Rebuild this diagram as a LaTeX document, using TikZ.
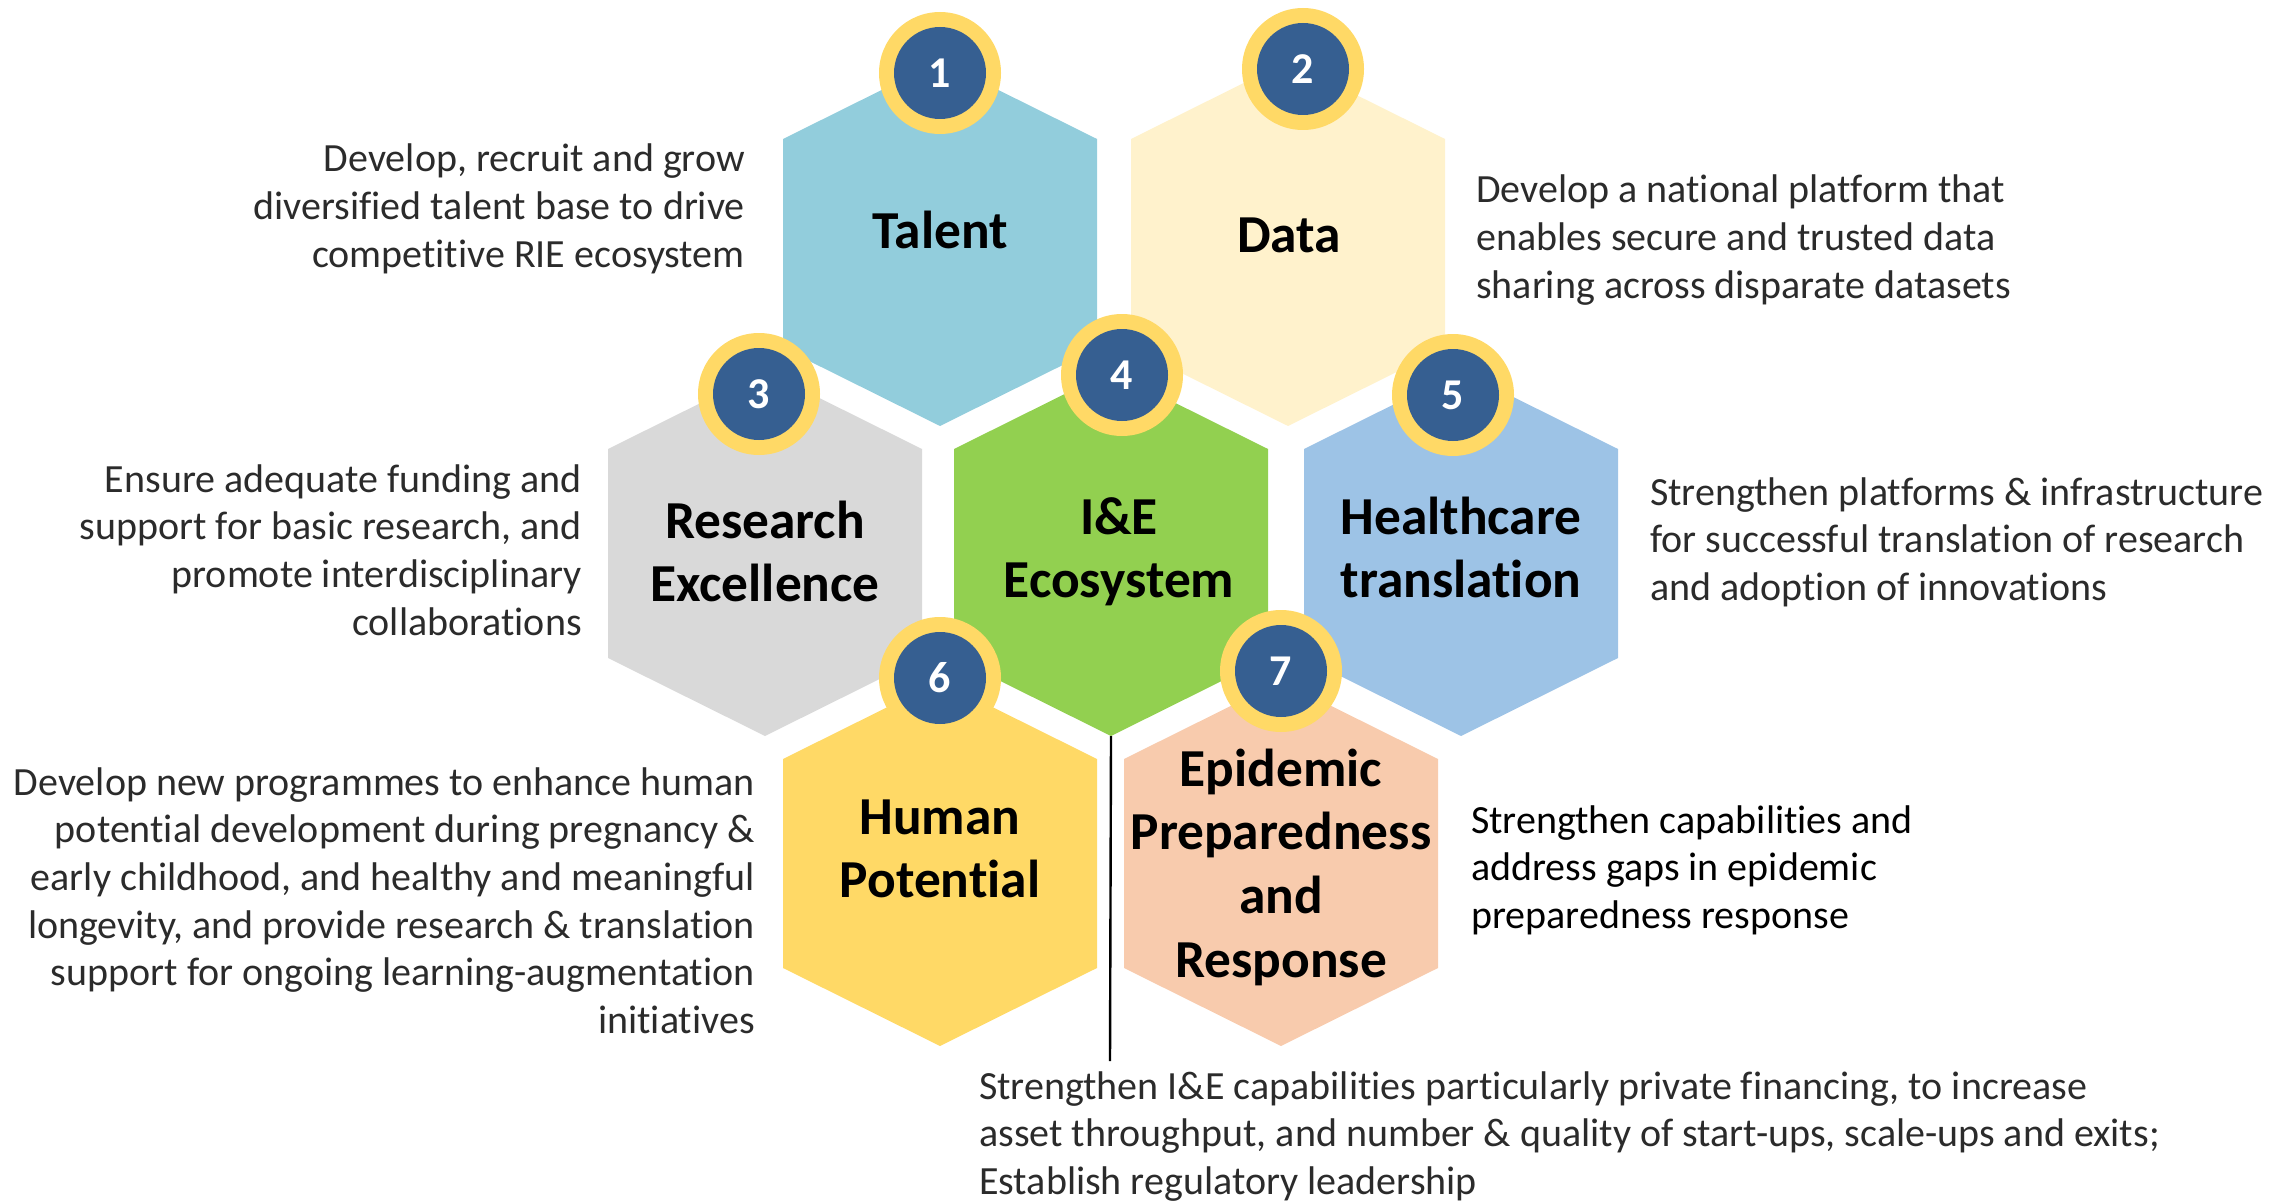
\documentclass[tikz,border=0pt]{standalone}
\usepackage{fontspec}
\setmainfont[Ligatures=NoCommon]{Carlito}
\definecolor{cTalent}{HTML}{92CDDC}
\definecolor{cData}{HTML}{FFF2CC}
\definecolor{cResearch}{HTML}{D9D9D9}
\definecolor{cIE}{HTML}{92D050}
\definecolor{cHealth}{HTML}{9DC3E6}
\definecolor{cHuman}{HTML}{FFD966}
\definecolor{cEpi}{HTML}{F8CBAD}
\definecolor{cRing}{HTML}{FFD966}
\definecolor{cBadge}{HTML}{365F91}
\definecolor{cBody}{HTML}{2B2B2B}
\tikzset{
  bodytext/.style={inner sep=0pt, text=cBody, font=\fontsize{40}{47.7}\selectfont},
  titletext/.style={inner sep=0pt, text=black, font=\bfseries\fontsize{53.4}{64}\selectfont},
  badgenum/.style={circle, fill=cBadge, minimum size=92pt, inner sep=0pt, text=white, font=\bfseries\fontsize{44}{50}\selectfont},
  badgering/.style={fill=cRing},
  stemline/.style={draw=black, line width=2.4pt}
}
% name, cx, cy, colour
\newcommand\hexa[4]{%
  \fill[#4] (#2,#3-182.5) -- (#2+157,#3-104.5) -- (#2+157,#3+104.5) -- (#2,#3+182.5)
    -- (#2-157,#3+104.5) -- (#2-157,#3-104.5) -- cycle;
  \coordinate (#1) at (#2,#3);
  \coordinate (#1-b) at (#2,#3+182.5);}
% name, x, y, number
\newcommand\badge[4]{%
  \fill[badgering] (#2,#3) circle[radius=61pt];
  \node[badgenum] (#1) at (#2,#3) {#4};}
% name, x, first baseline, anchor, lines
\newcommand\bodylines[5]{%
  \foreach \ln [count=\i from 0] in {#5}
    \node[bodytext, anchor=#4] (#1-\i) at (#2,#3+\i*47.7) {\ln};}
\newcommand\bodylinesk[5]{%
  \foreach \ln [count=\i from 0] in {#5}
    \node[bodytext, text=black, anchor=#4] (#1-\i) at (#2,#3+\i*47.7) {\ln};}
% name, x, first baseline, lines
\newcommand\titlelines[4]{%
  \foreach \ln [count=\i from 0] in {#4}
    \node[titletext, anchor=base] (#1-\i) at (#2,#3+\i*63.8) {\ln};}
\begin{document}
\begin{tikzpicture}[x=1pt,y=-1pt]
\useasboundingbox (0,0) rectangle (2295,1201);
% hexagons
\hexa{talent}{940}{243.5}{cTalent}
\hexa{data}{1288}{243.5}{cData}
\hexa{research}{765}{553.5}{cResearch}
\hexa{ie}{1111}{553.5}{cIE}
\hexa{health}{1461}{553.5}{cHealth}
\hexa{human}{940}{863.5}{cHuman}
\hexa{epi}{1281}{863.5}{cEpi}
% stem line
\coordinate (stemend) at (1110,1061);
\draw[stemline] (ie-b) -- (stemend);
% badges
\badge{b1}{940}{73}{1}
\badge{b2}{1303}{69}{2}
\badge{b3}{759}{394}{3}
\badge{b4}{1122}{375}{4}
\badge{b5}{1453}{395}{5}
\badge{b6}{940}{678}{6}
\badge{b7}{1281}{671}{7}
% titles
\titlelines{tt1}{940}{248}{Talent}
\titlelines{tt2}{1289}{253}{Data}
\titlelines{tt3}{765}{538}{Research,Excellence}
\titlelines{tt4}{1119}{534}{I\&E,Ecosystem}
\titlelines{tt5}{1461}{534}{Healthcare,translation}
\titlelines{tt6}{940}{834}{Human,Potential}
\titlelines{tt7}{1281}{786}{Epidemic,Preparedness,and,Response}
% descriptions
\bodylines{d1}{745}{172}{base east}{{Develop, recruit and grow},{diversified talent base to drive},{competitive RIE ecosystem}}
\bodylines{d2}{1476}{203}{base west}{{Develop a national platform that},{enables secure and trusted data},{sharing across disparate datasets}}
\bodylines{d3}{582}{492}{base east}{{Ensure adequate funding and},{support for basic research, and},{promote interdisciplinary},{collaborations}}
\bodylines{d5}{1650}{505}{base west}{{Strengthen platforms \& infrastructure},{for successful translation of research},{and adoption of innovations}}
\bodylines{d6}{755}{795}{base east}{{Develop new programmes to enhance human},{potential development during pregnancy \&},{early childhood, and healthy and meaningful},{longevity, and provide research \& translation},{support for ongoing learning-augmentation},{initiatives}}
\bodylinesk{d7}{1471}{833}{base west}{{Strengthen capabilities and},{address gaps in epidemic},{preparedness response}}
\bodylines{d4}{979}{1099}{base west}{{Strengthen I\&E capabilities particularly private financing, to increase},{asset throughput, and number \& quality of start-ups, scale-ups and exits;},{Establish regulatory leadership}}
\end{tikzpicture}
\end{document}
